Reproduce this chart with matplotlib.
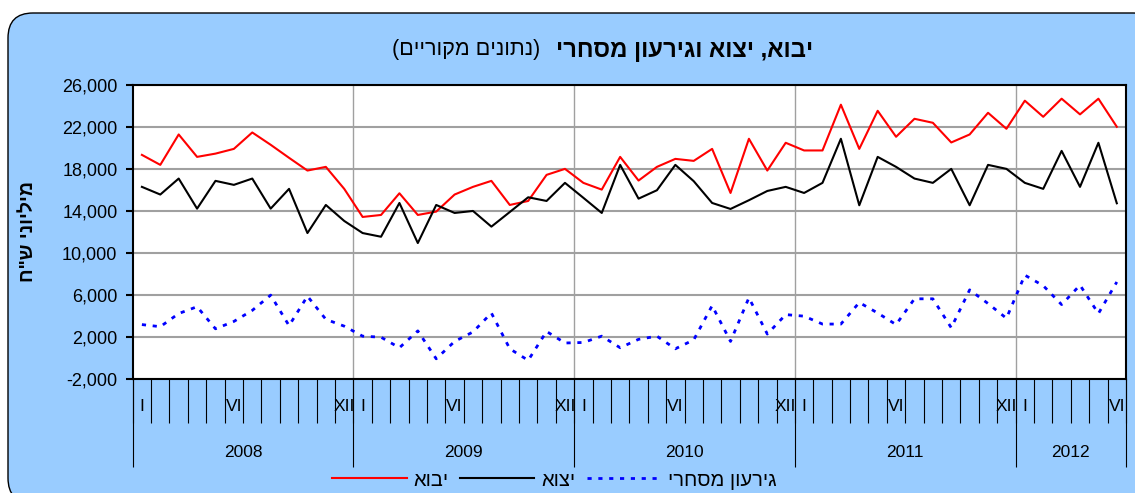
import numpy as np
import matplotlib
matplotlib.use('Agg')
import matplotlib.pyplot as plt
from matplotlib.patches import FancyBboxPatch

plt.rcParams['font.family'] = ['Liberation Sans', 'DejaVu Sans']

# monthly data, Jan 2008 - Jun 2012 (NIS million)
years = ['2008', '2009', '2010', '2011', '2012']
months_per_year = [12, 12, 12, 12, 6]
month_names = {1: 'I', 6: 'VI', 12: 'XII'}

imports = [19330, 18380, 21270, 19140, 19450, 19900, 21460, 20290, 19050, 17840, 18190, 16100,
           13430, 13620, 15680, 13620, 13940, 15560, 16290, 16860, 14570, 14950, 17430, 18000,
           16670, 16030, 19140, 16890, 18190, 18950, 18760, 19900, 15710, 20860, 17840, 20480,
           19750, 19750, 24100, 19900, 23520, 21050, 22760, 22380, 20510, 21270, 23330, 21810,
           24480, 22950, 24670, 23180, 24670, 22000]
exports = [16290, 15560, 17080, 14220, 16860, 16480, 17080, 14220, 16100, 11900, 14570, 13050,
           11900, 11550, 14760, 10950, 14570, 13810, 14000, 12510, 13900, 15300, 14950, 16670,
           15250, 13810, 18380, 15170, 15970, 18380, 16830, 14760, 14190, 15020, 15900, 16290,
           15710, 16670, 20860, 14540, 19140, 18190, 17080, 16670, 18000, 14540, 18380, 18000,
           16670, 16100, 19710, 16290, 20480, 14730]
deficit = [3200, 3000, 4250, 4900, 2800, 3500, 4550, 6000, 3100, 5900, 3700, 3050,
           2100, 2000, 1000, 2600, -50, 1600, 2500, 4300, 900, -200, 2550, 1450,
           1500, 2100, 1000, 1800, 2100, 900, 1750, 5000, 1600, 5750, 2300, 4150,
           4000, 3250, 3250, 5300, 4300, 3200, 5650, 5650, 2900, 6500, 5200, 3800,
           7900, 6900, 5100, 6950, 4250, 7250]


def heb(s):
    # matplotlib has no bidi support: flip to visual order
    return s[::-1].translate(str.maketrans('()', ')('))


W, H = 1135, 493
fig = plt.figure(figsize=(W / 100, H / 100), dpi=100)
fig.patch.set_facecolor('white')

bg = FancyBboxPatch((0.08, -0.1), 11.5, 4.90, boxstyle='round,pad=0,rounding_size=0.25',
                    transform=fig.dpi_scale_trans, facecolor='#99CCFF', edgecolor='black',
                    linewidth=1.0, zorder=-1)
fig.add_artist(bg)

ax = fig.add_axes([132.7 / W, 1 - 379.3 / H, (1126 - 132.7) / W, (379.3 - 84.7) / H])
ax.set_facecolor('white')

n = len(imports)
x = np.arange(n)
ax.plot(x, imports, color='#FF0000', lw=1.5, label=heb('יבוא'), zorder=3)
ax.plot(x, exports, color='black', lw=1.5, label=heb('יצוא'), zorder=3)
ax.plot(x, deficit, color='#0000FF', lw=2.0, dashes=(1.5, 2.4), label=heb('גירעון מסחרי'), zorder=3)

ax.set_xlim(-0.5, n - 0.5)
ax.set_ylim(-2000, 26000)
yt = list(range(-2000, 26001, 4000))
ax.set_yticks(yt)
ax.set_yticklabels([f'{v:,}' for v in yt], fontsize=13)
ax.yaxis.grid(True, color='#A0A0A0', lw=1.5)
ax.tick_params(axis='y', length=5, width=1.5, pad=6, color='black')

# month labels
labels = []
for ny in months_per_year:
    for m in range(1, ny + 1):
        labels.append(month_names.get(m, ''))
ax.set_xticks(x)
ax.set_xticklabels(labels, fontsize=12.5)
ax.tick_params(axis='x', length=0, pad=14)

for s in ax.spines.values():
    s.set_color('black')
    s.set_linewidth(1.5)

# year boundaries
bounds = np.cumsum([0] + months_per_year) - 0.5
for b in bounds[1:-1]:
    ax.axvline(b, color='#A0A0A0', lw=1.0, zorder=1)

trans = ax.get_xaxis_transform()
ax.vlines(np.arange(n + 1) - 0.5, -0.147, 0, transform=trans, clip_on=False, colors='black', lw=0.8)
ax.vlines(bounds, -0.297, 0, transform=trans, clip_on=False, colors='black', lw=0.8)
for i, yr in enumerate(years):
    ax.text((bounds[i] + bounds[i + 1]) / 2, -0.247, yr, transform=trans, ha='center', va='center',
            fontsize=12.5)

# title and axis label
fig.text(813 / W, 1 - 50 / H, heb('יבוא, יצוא וגירעון מסחרי'), ha='right', va='center',
         fontsize=17.2, fontweight='bold')
fig.text(540 / W, 1 - 50 / H, heb('(נתונים מקוריים)'), ha='right', va='center', fontsize=15.5)
fig.text(28 / W, 1 - 232 / H, heb('מיליוני ש"ח'), rotation=90, ha='center', va='center',
         fontsize=14, fontweight='bold')

fig.legend(loc='center', bbox_to_anchor=(554.5 / W, 1 - 480 / H), ncol=3, frameon=False,
           fontsize=14.5, handlelength=3.7, handletextpad=0.35, columnspacing=0.55)

plt.savefig('out.png', dpi=100)
